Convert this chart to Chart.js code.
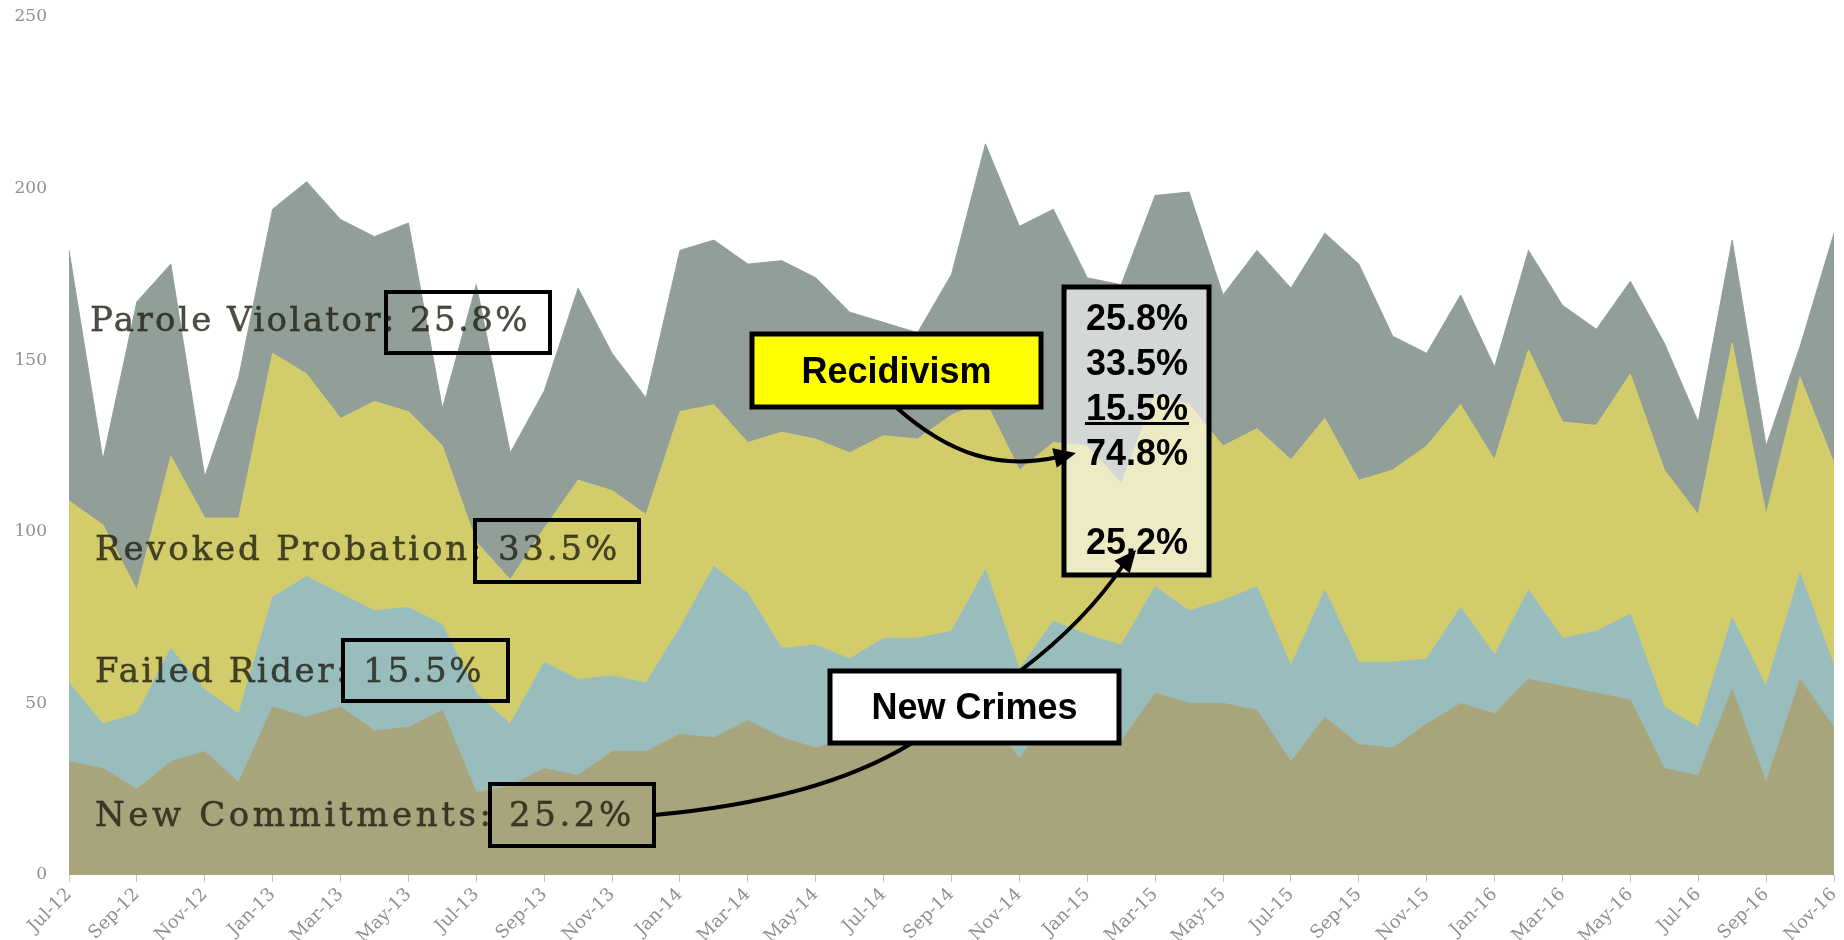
<!DOCTYPE html>
<html>
  <head>
    <meta charset="utf-8">
    <title>Admissions by type</title>
    <style>
      html, body {
        margin: 0;
        padding: 0;
        background: #fff;
      }

      #chart {
        display: block;
      }
    </style>
  </head>
  <body>
    <canvas id="chart" width="1844" height="940"></canvas>
    <script src="https://cdn.jsdelivr.net/npm/chart.js@4.4.1/dist/chart.umd.min.js"></script>
    <script>
      const months = [
        'Jul-12', 'Aug-12', 'Sep-12', 'Oct-12', 'Nov-12', 'Dec-12',
        'Jan-13', 'Feb-13', 'Mar-13', 'Apr-13', 'May-13', 'Jun-13', 'Jul-13', 'Aug-13', 'Sep-13', 'Oct-13', 'Nov-13', 'Dec-13',
        'Jan-14', 'Feb-14', 'Mar-14', 'Apr-14', 'May-14', 'Jun-14', 'Jul-14', 'Aug-14', 'Sep-14', 'Oct-14', 'Nov-14', 'Dec-14',
        'Jan-15', 'Feb-15', 'Mar-15', 'Apr-15', 'May-15', 'Jun-15', 'Jul-15', 'Aug-15', 'Sep-15', 'Oct-15', 'Nov-15', 'Dec-15',
        'Jan-16', 'Feb-16', 'Mar-16', 'Apr-16', 'May-16', 'Jun-16', 'Jul-16', 'Aug-16', 'Sep-16', 'Oct-16', 'Nov-16'
      ];

      // monthly counts, bottom layer first
      const newCommitments = [33, 31, 25, 33, 36, 27, 49, 46, 49, 42, 43, 48, 24, 26, 31, 29, 36, 36, 41, 40, 45, 40, 37, 40, 41, 41, 43, 47, 34, 47, 43, 39, 53, 50, 50, 48, 33, 46, 38, 37, 44, 50, 47, 57, 55, 53, 51, 31, 29, 54, 27, 57, 43];
      const failedRider = [23, 13, 22, 33, 18, 20, 32, 41, 33, 35, 35, 25, 29, 18, 31, 28, 22, 20, 31, 50, 37, 26, 30, 23, 28, 28, 28, 42, 26, 27, 27, 28, 31, 27, 30, 36, 28, 37, 24, 25, 19, 28, 17, 26, 14, 18, 25, 18, 14, 21, 28, 31, 18];
      const revokedProbation = [53, 58, 36, 56, 50, 57, 71, 59, 51, 61, 57, 52, 44, 42, 39, 58, 54, 49, 63, 47, 44, 63, 60, 60, 59, 58, 63, 49, 58, 52, 55, 47, 56, 60, 45, 46, 60, 50, 53, 56, 62, 59, 57, 70, 63, 60, 70, 69, 62, 80, 50, 57, 59];
      const paroleViolator = [73, 19, 84, 56, 12, 41, 42, 56, 58, 48, 55, 11, 75, 37, 40, 56, 40, 34, 47, 48, 52, 50, 47, 41, 33, 31, 41, 75, 71, 68, 49, 58, 58, 62, 44, 52, 50, 54, 63, 39, 27, 32, 27, 29, 34, 28, 27, 37, 27, 30, 20, 9, 67];

      const yTicks = [0, 50, 100, 150, 200, 250];

      const seriesNames = ['New Commitments', 'Failed Rider', 'Revoked Probation', 'Parole Violator'];
      const shares = [25.2, 15.5, 33.5, 25.8];
      const recidivismShare = 74.8;

      const colors = ['#a8a47c', '#99bcbd', '#d3cc6b', '#929f98'];

      // text placed on the areas: series index, x, baseline, width, box
      const areaLabels = [
        { s: 3, x: 90, y: 331, w: 440, box: [386, 292, 164, 61] },
        { s: 2, x: 95, y: 560, w: 525, box: [475, 520, 164, 62] },
        { s: 1, x: 95, y: 682, w: 389, box: [343, 640, 165, 61] },
        { s: 0, x: 95, y: 826, w: 540, box: [490, 784, 164, 62] }
      ];

      function fitText(ctx, text, x, y, width) {
        ctx.letterSpacing = '0px';
        const w = ctx.measureText(text).width;
        ctx.letterSpacing = ((width - w) / text.length) + 'px';
        ctx.fillText(text, x, y);
        ctx.strokeText(text, x, y);
        ctx.letterSpacing = '0px';
      }

      function arrowHead(ctx, fromX, fromY, tipX, tipY) {
        const a = Math.atan2(tipY - fromY, tipX - fromX);
        const len = 22, half = 10;
        ctx.beginPath();
        ctx.moveTo(tipX, tipY);
        ctx.lineTo(tipX - len * Math.cos(a) + half * Math.sin(a), tipY - len * Math.sin(a) - half * Math.cos(a));
        ctx.lineTo(tipX - len * Math.cos(a) - half * Math.sin(a), tipY - len * Math.sin(a) + half * Math.cos(a));
        ctx.closePath();
        ctx.fill();
      }

      function labelBox(ctx, x, y, w, h, fill, text, baseline) {
        ctx.fillStyle = fill;
        ctx.fillRect(x, y, w, h);
        ctx.lineWidth = 5;
        ctx.strokeStyle = '#000';
        ctx.strokeRect(x, y, w, h);
        ctx.fillStyle = '#000';
        ctx.textAlign = 'center';
        ctx.fillText(text, x + w / 2, baseline);
      }

      const annotations = {
        id: 'annotations',
        afterDraw(chart) {
          const ctx = chart.ctx;
          ctx.save();

          // series labels with their boxed shares
          ctx.font = '34px "DejaVu Serif"';
          ctx.textAlign = 'left';
          ctx.textBaseline = 'alphabetic';
          areaLabels.forEach((l) => {
            ctx.fillStyle = 'rgba(28, 28, 16, 0.78)';
            ctx.strokeStyle = 'rgba(28, 28, 16, 0.5)';
            ctx.lineWidth = 0.8;
            fitText(ctx, seriesNames[l.s] + ': ' + shares[l.s].toFixed(1) + '%', l.x, l.y, l.w);
            ctx.lineWidth = 4;
            ctx.strokeStyle = '#000';
            ctx.strokeRect(l.box[0], l.box[1], l.box[2], l.box[3]);
          });

          // summary column
          ctx.fillStyle = 'rgba(255, 255, 255, 0.6)';
          ctx.fillRect(1064, 287, 145, 288);
          ctx.lineWidth = 5;
          ctx.strokeStyle = '#000';
          ctx.strokeRect(1064, 287, 145, 288);

          ctx.font = 'bold 36px "Liberation Sans", Arial, sans-serif';
          ctx.fillStyle = '#000';
          ctx.textAlign = 'center';
          const colX = 1137;
          ctx.fillText(shares[3].toFixed(1) + '%', colX, 330);
          ctx.fillText(shares[2].toFixed(1) + '%', colX, 375);
          ctx.fillText(shares[1].toFixed(1) + '%', colX, 420);
          ctx.fillRect(1085, 422, 104, 3);
          ctx.fillText(recidivismShare.toFixed(1) + '%', colX, 465);
          ctx.fillText(shares[0].toFixed(1) + '%', colX, 554);

          // connectors
          ctx.lineWidth = 4;
          ctx.strokeStyle = '#000';
          ctx.fillStyle = '#000';

          ctx.beginPath();
          ctx.moveTo(897, 408);
          ctx.bezierCurveTo(950, 455, 1000, 470, 1058, 457);
          ctx.stroke();
          arrowHead(ctx, 1050, 459, 1076, 453);

          ctx.beginPath();
          ctx.moveTo(654, 815);
          ctx.quadraticCurveTo(820, 800, 912, 743);
          ctx.stroke();

          ctx.beginPath();
          ctx.moveTo(1020, 671);
          ctx.quadraticCurveTo(1085, 622, 1124, 564);
          ctx.stroke();
          arrowHead(ctx, 1118, 572, 1136, 550);

          // callout boxes
          ctx.font = 'bold 36px "Liberation Sans", Arial, sans-serif';
          labelBox(ctx, 752, 334, 289, 73, '#ffff00', 'Recidivism', 383);
          labelBox(ctx, 830, 671, 289, 72, '#ffffff', 'New Crimes', 719);

          ctx.restore();
        }
      };

      const chart = new Chart(document.getElementById('chart').getContext('2d'), {
        type: 'line',
        data: {
          labels: months,
          datasets: [newCommitments, failedRider, revokedProbation, paroleViolator].map((d, i) => ({
            label: seriesNames[i],
            data: d,
            backgroundColor: colors[i],
            borderColor: colors[i],
            borderWidth: 1,
            fill: i === 0 ? 'origin' : '-1',
            pointRadius: 0,
            tension: 0
          }))
        },
        options: {
          responsive: false,
          animation: false,
          layout: { padding: { top: 17, right: 10, left: 0, bottom: 0 } },
          plugins: {
            legend: { display: false },
            tooltip: { enabled: false }
          },
          scales: {
            x: {
              grid: {
                drawOnChartArea: false,
                drawTicks: true,
                tickLength: 7,
                tickColor: (c) => (c.index % 2 ? 'rgba(0,0,0,0)' : '#c4c4c4')
              },
              border: { display: false },
              ticks: {
                autoSkip: false,
                maxRotation: 45,
                minRotation: 45,
                padding: 2,
                color: '#8f8f8f',
                font: { family: '"DejaVu Serif", serif', size: 18 },
                callback: (v, i) => (i % 2 === 0 ? months[i] : '')
              },
              afterFit: (s) => {
                s.height = 65;
                s.paddingLeft = 0;
                s.paddingRight = 0;
              }
            },
            y: {
              stacked: true,
              min: 0,
              max: 250,
              grid: { display: false, drawTicks: false },
              border: { display: false },
              ticks: {
                padding: 22,
                color: '#8f8f8f',
                font: { family: '"DejaVu Serif", serif', size: 17 }
              },
              afterBuildTicks: (s) => {
                s.ticks = yTicks.map((v) => ({ value: v }));
              },
              afterFit: (s) => {
                s.width = 69;
                s.paddingTop = 0;
                s.paddingBottom = 0;
              }
            }
          }
        },
        plugins: [annotations]
      });
    </script>
  </body>
</html>
